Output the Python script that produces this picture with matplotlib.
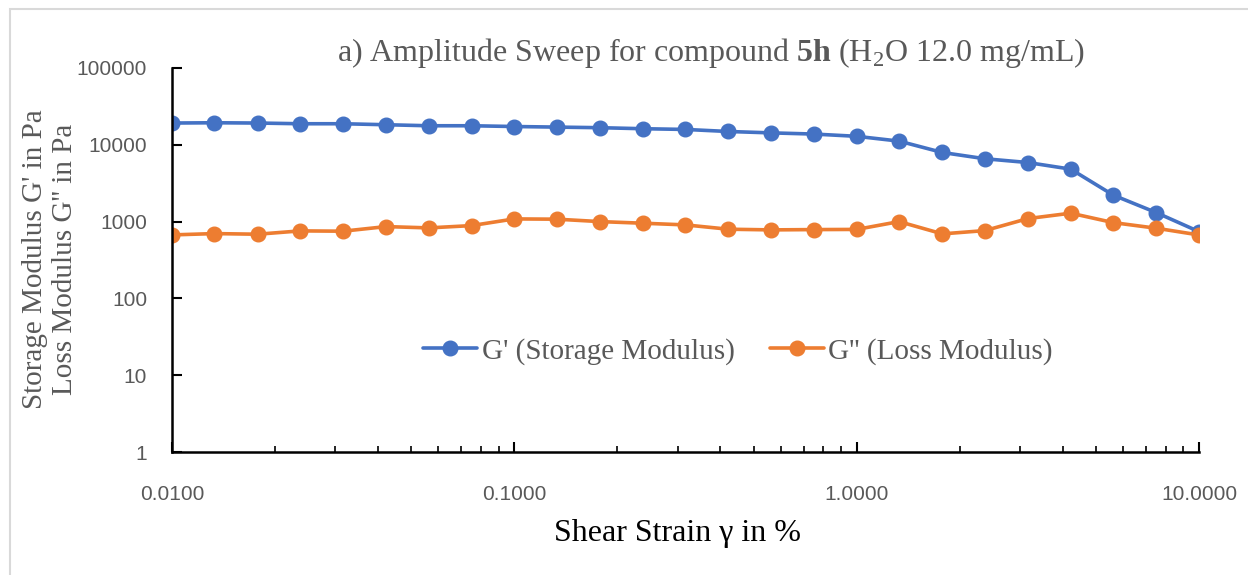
import matplotlib
matplotlib.use("Agg")
import matplotlib.pyplot as plt
from matplotlib.patches import Rectangle
from matplotlib.ticker import LogLocator, FixedLocator, NullFormatter

# shear strain in %, 8 points per decade (last one lies past the axis end)
strain = [0.0100, 0.0133, 0.0178, 0.0237, 0.0316, 0.0422, 0.0562, 0.0750,
          0.100, 0.133, 0.178, 0.237, 0.316, 0.422, 0.562, 0.750,
          1.00, 1.33, 1.78, 2.37, 3.16, 4.22, 5.62, 7.50, 10.0, 13.3]
g_storage = [19200, 19360, 19200, 18800, 18800, 18250, 17700, 17700,
             17300, 17000, 16700, 16200, 15850, 14900, 14300, 13800,
             12900, 11170, 7940, 6580, 5880, 4820, 2210, 1310, 740, 420]
g_loss = [671, 698, 685, 757, 750, 861, 828, 887,
          1084, 1075, 1000, 953, 906, 796, 780, 787,
          791, 1000, 692, 764, 1094, 1287, 970, 820, 670, 550]

x_ticks = [0.01, 0.1, 1, 10]
x_ticklabels = ["0.0100", "0.1000", "1.0000", "10.0000"]
y_ticks = [1, 10, 100, 1000, 10000, 100000]
y_ticklabels = ["1", "10", "100", "1000", "10000", "100000"]

blue = "#4472C4"
orange = "#ED7D31"
grey = "#595959"
serif = "Liberation Serif"
sans = "Liberation Sans"

plt.rcParams["mathtext.fontset"] = "custom"
plt.rcParams["mathtext.rm"] = serif
plt.rcParams["mathtext.bf"] = serif + ":bold"

fig = plt.figure(figsize=(12.48, 5.75), dpi=100)
ax = fig.add_axes([172 / 1248, 1 - 452 / 575, (1199 - 172) / 1248, (452 - 68) / 575])

ax.plot(strain, g_storage, color=blue, lw=2.6, marker="o", ms=10.5,
        label="G' (Storage Modulus)", solid_capstyle="round")
ax.plot(strain, g_loss, color=orange, lw=2.6, marker="o", ms=10.5,
        label="G'' (Loss Modulus)", solid_capstyle="round")

ax.set_xscale("log")
ax.set_yscale("log")
ax.set_xlim(0.01, 10)
ax.set_ylim(1, 100000)

ax.xaxis.set_major_locator(FixedLocator(x_ticks))
ax.set_xticklabels(x_ticklabels)
ax.xaxis.set_minor_locator(LogLocator(base=10, subs=range(2, 10)))
ax.xaxis.set_minor_formatter(NullFormatter())
ax.yaxis.set_major_locator(FixedLocator(y_ticks))
ax.set_yticklabels(y_ticklabels)
ax.yaxis.set_minor_locator(FixedLocator([]))

ax.tick_params(axis="both", which="major", direction="in", length=7, width=1.5,
               colors="black", labelcolor=grey, labelsize=15)
ax.tick_params(axis="x", which="minor", direction="in", length=4, width=1.2)
ax.tick_params(axis="x", pad=24)
ax.tick_params(axis="y", pad=18)
for lab in ax.get_xticklabels() + ax.get_yticklabels():
    lab.set_fontfamily(sans)

for side in ["top", "right"]:
    ax.spines[side].set_visible(False)
for side in ["left", "bottom"]:
    ax.spines[side].set_linewidth(1.8)

leg = ax.legend(loc="center", bbox_to_anchor=(0.551, 0.262), ncol=2, frameon=False,
                prop={"family": serif, "size": 21}, handlelength=1.86,
                columnspacing=1.2, handletextpad=0.15)
for t in leg.get_texts():
    t.set_color(grey)

fig.text(711 / 1248, 1 - 53 / 575,
         r"a) Amplitude Sweep for compound $\mathbf{5h}$ (H$_2$O 12.0 mg/mL)",
         ha="center", va="center", fontsize=23, family=serif, color=grey)
fig.text(678 / 1248, 1 - 533 / 575, "Shear Strain γ in %",
         ha="center", va="center", fontsize=23, family=serif, color="black")
fig.text(50 / 1248, 1 - 259 / 575, "Storage Modulus G' in Pa\nLoss Modulus G'' in Pa",
         ha="center", va="center", rotation=90, fontsize=21, family=serif,
         color=grey, linespacing=1.2, multialignment="center")

# light chart-area border (only the top and left edges are in the image)
fig.add_artist(Rectangle((10 / 1248, -0.1), 1.2, 1 - 9 / 575 + 0.1,
                         transform=fig.transFigure, fill=False,
                         edgecolor="#D9D9D9", lw=1.5))

fig.savefig("out.png", dpi=100)
